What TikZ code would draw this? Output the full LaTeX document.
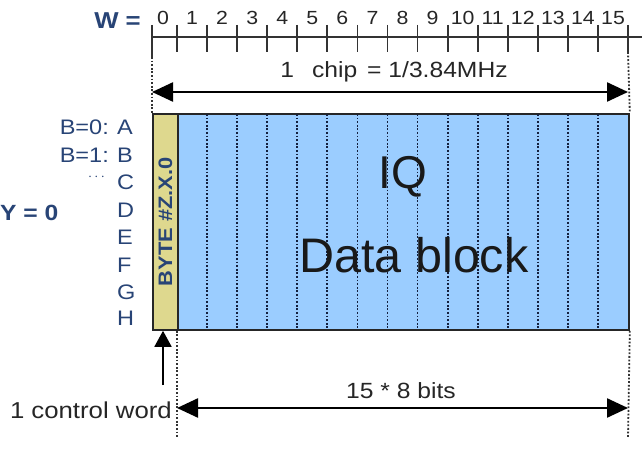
\documentclass[tikz,border=0pt]{standalone}
\usepackage{fontspec}
\setmainfont{Liberation Sans}[FakeStretch=1.12]
\newfontfamily\bigfont{Liberation Sans}
\usetikzlibrary{arrows.meta,calc}
\definecolor{lblue}{RGB}{40,68,118}
\definecolor{yel}{RGB}{222,216,142}
\definecolor{bl}{RGB}{155,205,255}
\definecolor{dotc}{RGB}{20,32,62}
\tikzset{
  lbl/.style={inner sep=0pt, text=lblue, font=\fontsize{21}{21}\selectfont},
  blbl/.style={inner sep=0pt, text=lblue, font=\fontsize{22}{22}\selectfont\bfseries},
  num/.style={inner sep=0pt, text=black!85, font=\fontsize{19}{19}\selectfont},
  txt/.style={inner sep=0pt, text=black!85, font=\fontsize{22}{22}\selectfont},
  tick/.style={line width=1.8pt, draw=black!80},
  guide/.style={line width=1.8pt, draw=black!80, dash pattern=on 1.8pt off 1.8pt},
  inner/.style={line width=1.8pt, draw=dotc, dash pattern=on 1.8pt off 1.8pt},
  dim/.style={line width=2.4pt, draw=black, {Triangle[length=21pt,width=19pt]}-{Triangle[length=21pt,width=19pt]}},
}
\begin{document}
\begin{tikzpicture}[x=1pt,y=-1pt]
\useasboundingbox[fill=white] (0,0) rectangle (642,454);
% ruler
\coordinate (r0) at (152,37);
\coordinate (rend) at (642,37);
\draw[tick] (r0) -- (rend);
\draw[tick] (152,25) -- (152,57);
\foreach \k in {0,...,15} {
  \draw[tick] ({177+30.07*\k},25) -- ({177+30.07*\k},52);
}
\node[num] (n0) at (163,18) {0};
\foreach \k in {1,...,15} {
  \node[num] (n\k) at ({177+30.07*(\k-0.5)},18) {\k};
}
\node[blbl, font=\fontsize{23}{23}\selectfont\bfseries, anchor=east] (W) at (141,21) {W =};
% block
\node[draw=black!85, line width=1.8pt, fill=yel, minimum width=25pt, minimum height=216pt, inner sep=0pt, anchor=north west] (ctl) at (152,113) {};
\node[draw=black!85, line width=1.8pt, fill=bl, minimum width=451pt, minimum height=216pt, inner sep=0pt, anchor=north west] (iq) at (177,113) {};
\foreach \k in {1,...,14} {
  \draw[inner] ({177+30.07*\k},114) -- ({177+30.07*\k},328);
}
\node[blbl, rotate=90, font=\fontsize{19.5}{19.5}\selectfont\bfseries] (byte) at (ctl.center) {BYTE \#Z.X.0};
\node[inner sep=0pt, font=\bigfont\fontsize{46}{46}\selectfont, text=black!90] (IQ) at (403,177) {IQ};
\node[inner sep=0pt, font=\bigfont\fontsize{48.5}{48.5}\selectfont, text=black!90] (DB) at (414,255) {Data block};
% guides
\coordinate (g1t) at (152,57);
\coordinate (g2t) at (628,52);
\coordinate (g3b) at (177,438);
\coordinate (g4b) at (628,438);
\draw[guide] (g1t) -- (ctl.north west);
\draw[guide] (g2t) -- (iq.north east);
\draw[guide] (iq.south west) -- (g3b);
\draw[guide] (iq.south east) -- (g4b);
% dimension arrows
\coordinate (a1l) at (152,92);
\coordinate (a1r) at (628,92);
\draw[dim] (a1l) -- (a1r);
\node[txt] (chip) at (394,72) {1\hspace{18pt}chip\hspace{10pt}= 1/3.84MHz};
\coordinate (a2l) at (177,408);
\coordinate (a2r) at (628,408);
\draw[dim] (a2l) -- (a2r);
\node[txt] (bits) at (401,391) {15 * 8 bits};
\node[txt, font=\fontsize{23}{23}\selectfont, anchor=east] (cw) at (172,410) {1 control word};
\coordinate (cwt) at (163,385);
\draw[line width=1.8pt, -{Triangle[length=16pt,width=17pt]}] (cwt) -- (ctl.south -| cwt);
% row labels
\foreach \l/\y in {A/127,B/155,C/182,D/210,E/237,F/265,G/292,H/318} {
  \node[lbl, anchor=west] (row\l) at (117,\y) {\l};
}
\node[lbl, anchor=east] (b0) at (109,127) {B=0:};
\node[lbl, anchor=east] (b1) at (109,155) {B=1:};
\node[lbl, font=\fontsize{14}{14}\selectfont, anchor=east] (dots) at (105,177) {$\cdots$};
\node[blbl, anchor=west] (Y) at (0,213) {Y = 0};
\end{tikzpicture}
\end{document}
